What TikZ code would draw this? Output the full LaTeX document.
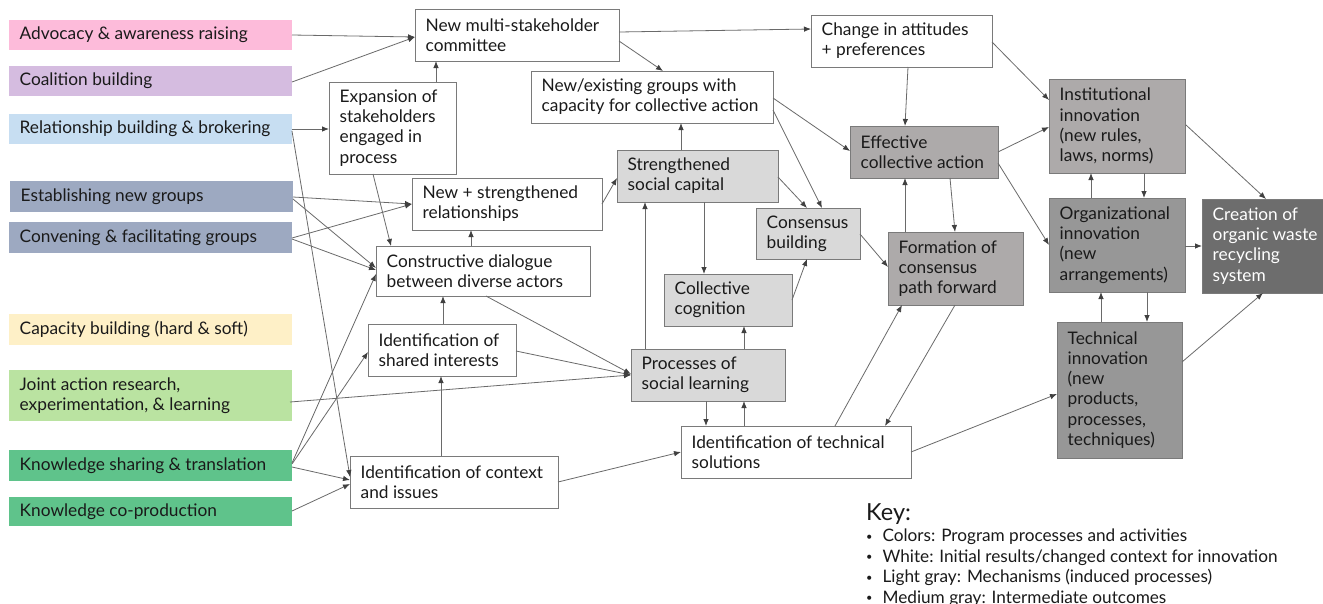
\documentclass[tikz,border=0pt]{standalone}
\usepackage{fontspec}
\setmainfont{Lato}
\usetikzlibrary{arrows.meta}

\definecolor{cpink}{HTML}{FDBBDA}
\definecolor{clav}{HTML}{D5BCE0}
\definecolor{cblue}{HTML}{C7DEF2}
\definecolor{cslate}{HTML}{9DA9C1}
\definecolor{cyel}{HTML}{FEF0C7}
\definecolor{clgrn}{HTML}{BAE3A1}
\definecolor{cgrn}{HTML}{5FC38B}
\definecolor{glight}{HTML}{D9D9D9}
\definecolor{gmid}{HTML}{ADAAAA}
\definecolor{gdeep}{HTML}{979797}
\definecolor{gdark}{HTML}{6D6D6D}
\definecolor{edgecol}{HTML}{7A7A7A}
\definecolor{linecol}{HTML}{6A6A6A}
\definecolor{txtcol}{HTML}{1A1A1A}

\tikzset{
  boxbase/.style={rectangle, outer sep=0pt, inner sep=0pt},
  activity/.style={boxbase, draw=none},
  result/.style={boxbase, draw=edgecol, line width=1pt, fill=white},
  mechanism/.style={boxbase, draw=edgecol, line width=1pt, fill=glight},
  outcome/.style={boxbase, draw=edgecol, line width=1pt, fill=gmid},
  outcomedeep/.style={boxbase, draw=edgecol, line width=1pt, fill=gdeep},
  goal/.style={boxbase, draw=edgecol, line width=1pt, fill=gdark},
  boxtext/.style={inner sep=0pt, align=left, text=txtcol,
    font=\fontsize{17.3}{20.2}\selectfont},
  keytext/.style={inner sep=0pt, anchor=base west, text=txtcol,
    font=\fontsize{17.2}{20}\selectfont},
  link/.style={draw=linecol, line width=0.8pt,
    -{Latex[length=7pt,width=5.5pt,color=black!75]}},
}

% box: name, style, x1, y1, x2, y2, text  (pixel-like units, y downwards)
\makeatletter
\newcommand\mkbox[7]{%
  \pgfmathsetmacro\bxw{#5-#3}\pgfmathsetmacro\bxh{#6-#4}%
  \expandafter\xdef\csname bxo@#1\endcsname{#3}%
  \expandafter\xdef\csname byo@#1\endcsname{#4}%
  \node[#2, minimum width=\bxw pt, minimum height=\bxh pt, anchor=north west] (#1) at (#3,#4) {};
  \node[boxtext, anchor=west] (#1-txt) at ([xshift=10.5pt]#1.west) {#7};
}
% a point of node #1, given by its position (#2,#3)
\newcommand\onbox[3]{([shift={({#2-\csname bxo@#1\endcsname},{#3-\csname byo@#1\endcsname})}]#1.north west)}
\makeatother
% small bullet for the key
\newcommand\keybullet{\raisebox{1.5pt}{\fontsize{11}{11}\selectfont\textbullet}\hspace{10pt}}

\begin{document}
\begin{tikzpicture}[x=1pt, y=-1pt]
\fill[white] (0,0) rectangle (1323,603);
\useasboundingbox (0,0) rectangle (1323,603);

% program processes and activities
\mkbox{adv}{activity,fill=cpink}{9}{20}{292}{50}{Advocacy \& awareness raising}
\mkbox{coal}{activity,fill=clav}{9}{66}{292}{96}{Coalition building}
\mkbox{rel}{activity,fill=cblue}{9}{114}{292}{144}{Relationship building \& brokering}
\mkbox{est}{activity,fill=cslate}{10}{181}{293}{212}{Establishing new groups}
\mkbox{conv}{activity,fill=cslate}{9}{222}{292}{253}{Convening \& facilitating groups}
\mkbox{cap}{activity,fill=cyel}{9}{314}{292}{345}{Capacity building (hard \& soft)}
\mkbox{joint}{activity,fill=clgrn}{9}{370}{292}{421}{Joint action research,\\experimentation, \& learning}
\mkbox{ksh}{activity,fill=cgrn}{9}{450}{292}{481}{Knowledge sharing \& translation}
\mkbox{kco}{activity,fill=cgrn}{9}{497}{292}{526}{Knowledge co-production}

% initial results / changed context
\mkbox{cmte}{result}{415}{9}{619}{61}{New multi-stakeholder\\committee}
\mkbox{expan}{result}{329}{82}{456}{174}{Expansion of\\stakeholders\\engaged in\\process}
\mkbox{rels}{result}{412}{178}{602}{230}{New + strengthened\\relationships}
\mkbox{dial}{result}{376}{246}{590}{296}{Constructive dialogue\\between diverse actors}
\mkbox{shared}{result}{368}{324}{516}{376}{Identification of\\shared interests}
\mkbox{context}{result}{350}{456}{558}{508}{Identification of context\\and issues}
\mkbox{groups}{result}{531}{71}{773}{123}{New/existing groups with\\capacity for collective action}
\mkbox{attit}{result}{811}{15}{992}{67}{Change in attitudes\\+ preferences}
\mkbox{techsol}{result}{681}{426}{911}{478}{Identification of technical\\solutions}

% mechanisms
\mkbox{social}{mechanism}{617}{150}{778}{202}{Strengthened\\social capital}
\mkbox{consb}{mechanism}{756}{208}{860}{259}{Consensus\\building}
\mkbox{cogn}{mechanism}{664}{274}{792}{326}{Collective\\cognition}
\mkbox{learn}{mechanism}{631}{349}{785}{401}{Processes of\\social learning}

% intermediate outcomes
\mkbox{effect}{outcome}{850}{126}{998}{178}{Effective\\collective action}
\mkbox{form}{outcome}{888}{232}{1023}{305}{Formation of\\consensus\\path forward}
\mkbox{inst}{outcome}{1049}{79}{1185}{173}{Institutional\\innovation\\(new rules,\\laws, norms)}
\mkbox{org}{outcomedeep}{1049}{198}{1185}{292}{Organizational\\innovation\\(new\\arrangements)}
\mkbox{techinn}{outcomedeep}{1057}{322}{1182}{458}{Technical\\innovation\\(new\\products,\\processes,\\techniques)}
\mkbox{create}{goal}{1202}{199}{1330}{293}{\color{white}Creation of\\\color{white}organic waste\\\color{white}recycling\\\color{white}system}

% connectors
\draw[link] \onbox{adv}{292}{35} -- \onbox{cmte}{415}{37};
\draw[link] \onbox{coal}{292}{82} -- \onbox{cmte}{415}{37};
\draw[link] \onbox{rel}{292}{129} -- \onbox{expan}{329}{129};
\draw[link] \onbox{rel}{292}{131} -- \onbox{context}{350}{477};
\draw[link] \onbox{expan}{436}{82} -- \onbox{cmte}{436}{61};
\draw[link] \onbox{expan}{373}{174} -- \onbox{dial}{391}{246};
\draw[link] \onbox{est}{293}{197} -- \onbox{rels}{412}{204};
\draw[link] \onbox{est}{293}{199} -- \onbox{dial}{376}{268};
\draw[link] \onbox{conv}{292}{238} -- \onbox{rels}{412}{204};
\draw[link] \onbox{conv}{292}{239} -- \onbox{dial}{376}{270};
\draw[link] \onbox{ksh}{292}{463} -- \onbox{dial}{376}{274};
\draw[link] \onbox{ksh}{292}{464} -- \onbox{shared}{368}{352};
\draw[link] \onbox{ksh}{292}{467} -- \onbox{context}{350}{480};
\draw[link] \onbox{kco}{292}{511} -- \onbox{context}{350}{484};
\draw[link] \onbox{joint}{290}{402} -- \onbox{learn}{631}{375};
\draw[link] \onbox{shared}{516}{351} -- \onbox{learn}{631}{375};
\draw[link] \onbox{dial}{486}{296} -- \onbox{learn}{631}{374};
\draw[link] \onbox{shared}{443}{324} -- \onbox{dial}{443}{296};
\draw[link] \onbox{context}{441}{456} -- \onbox{shared}{441}{376};
\draw[link] \onbox{context}{558}{482} -- \onbox{techsol}{681}{452};
\draw[link] \onbox{dial}{471}{246} -- \onbox{rels}{471}{230};
\draw[link] \onbox{rels}{602}{204} -- \onbox{social}{617}{178};
\draw[link] \onbox{learn}{645}{349} -- \onbox{social}{645}{202};
\draw[link] \onbox{social}{681}{150} -- \onbox{groups}{681}{123};
\draw[link] \onbox{social}{704}{202} -- \onbox{cogn}{704}{274};
\draw[link] \onbox{social}{778}{177} -- \onbox{consb}{807}{208};
\draw[link] \onbox{groups}{773}{110} -- \onbox{consb}{822}{208};
\draw[link] \onbox{groups}{773}{98} -- \onbox{effect}{850}{151};
\draw[link] \onbox{cmte}{619}{41} -- \onbox{groups}{663}{71};
\draw[link] \onbox{cmte}{619}{32} -- \onbox{attit}{811}{29};
\draw[link] \onbox{cogn}{792}{300} -- \onbox{consb}{807}{259};
\draw[link] \onbox{learn}{744}{349} -- \onbox{cogn}{744}{326};
\draw[link] \onbox{learn}{706}{401} -- \onbox{techsol}{706}{426};
\draw[link] \onbox{techsol}{744}{426} -- \onbox{learn}{744}{401};
\draw[link] \onbox{consb}{860}{234} -- \onbox{form}{888}{267};
\draw[link] \onbox{attit}{908}{67} -- \onbox{effect}{905}{126};
\draw[link] \onbox{attit}{992}{42} -- \onbox{inst}{1049}{100};
\draw[link] \onbox{effect}{998}{152} -- \onbox{inst}{1049}{127};
\draw[link] \onbox{effect}{998}{163} -- \onbox{org}{1049}{245};
\draw[link] \onbox{form}{905}{232} -- \onbox{effect}{905}{178};
\draw[link] \onbox{effect}{950}{178} -- \onbox{form}{955}{232};
\draw[link] \onbox{inst}{1144}{173} -- \onbox{org}{1144}{198};
\draw[link] \onbox{org}{1091}{198} -- \onbox{inst}{1091}{173};
\draw[link] \onbox{inst}{1186}{125} -- \onbox{create}{1266}{199};
\draw[link] \onbox{org}{1185}{246} -- \onbox{create}{1202}{246};
\draw[link] \onbox{techinn}{1101}{322} -- \onbox{org}{1101}{292};
\draw[link] \onbox{org}{1147}{292} -- \onbox{techinn}{1147}{322};
\draw[link] \onbox{techinn}{1182}{362} -- \onbox{create}{1263}{293};
\draw[link] \onbox{techsol}{911}{452} -- \onbox{techinn}{1057}{394};
\draw[link] \onbox{techsol}{835}{426} -- \onbox{form}{902}{305};
\draw[link] \onbox{form}{955}{305} -- \onbox{techsol}{885}{426};

% key
\node[inner sep=0pt, anchor=base west, text=txtcol, font=\fontsize{23.5}{26}\selectfont] (keyhead) at (866,520) {Key:};
\node[keytext] (key1) at (866,541.5) {\keybullet Colors: Program processes and activities};
\node[keytext] (key2) at (866,562) {\keybullet White: Initial results/changed context for innovation};
\node[keytext] (key3) at (866,582.5) {\keybullet Light gray: Mechanisms (induced processes)};
\node[keytext] (key4) at (866,603) {\keybullet Medium gray: Intermediate outcomes};
\end{tikzpicture}
\end{document}
